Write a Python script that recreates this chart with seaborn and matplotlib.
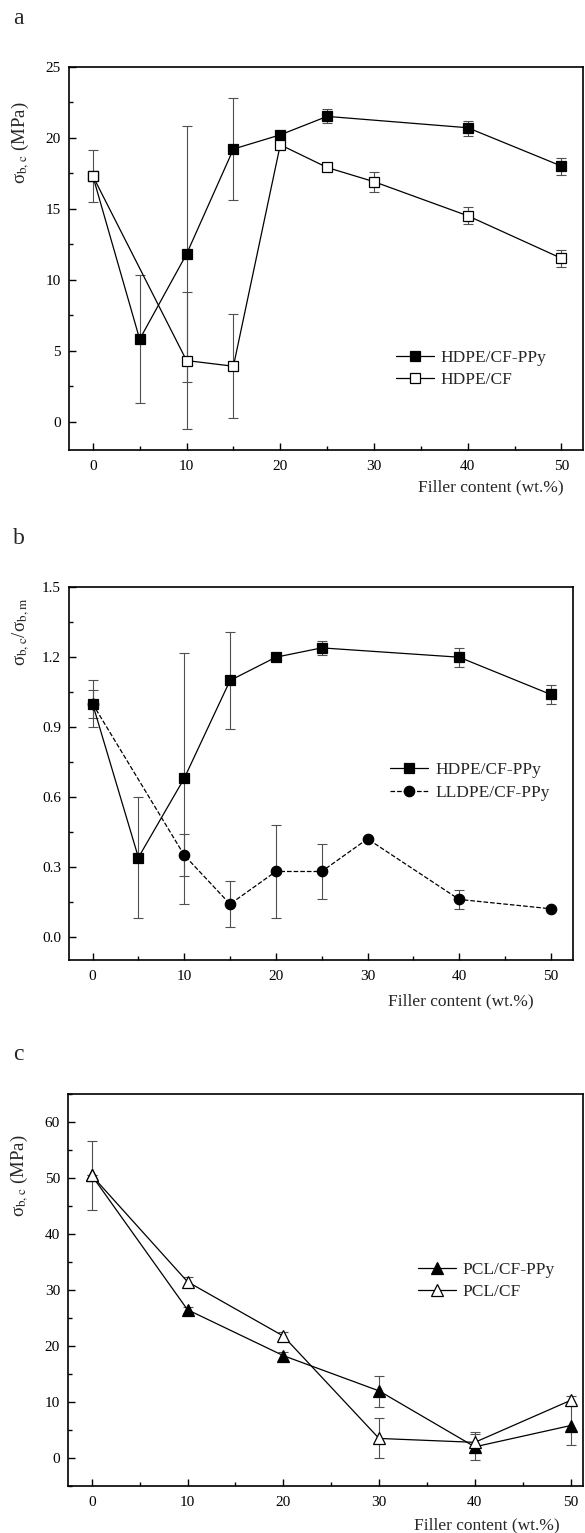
import matplotlib
matplotlib.use("Agg")
import matplotlib.pyplot as plt
from matplotlib.ticker import MultipleLocator, FormatStrFormatter
import seaborn as sns

# ---------------- data ----------------
# panel a
a_x_pp = [0, 5, 10, 15, 20, 25, 40, 50]
a_y_pp = [17.3, 5.8, 11.8, 19.2, 20.2, 21.5, 20.7, 18.0]
a_lo_pp = [17.3, 1.3, -0.5, 15.6, 19.8, 21.0, 20.1, 17.4]
a_hi_pp = [17.3, 10.3, 20.8, 22.8, 20.5, 22.0, 21.2, 18.6]
a_x_cf = [0, 10, 15, 20, 25, 30, 40, 50]
a_y_cf = [17.3, 4.3, 3.9, 19.5, 17.9, 16.9, 14.5, 11.5]
a_lo_cf = [15.5, 2.8, 0.25, 19.2, 17.75, 16.2, 13.9, 10.9]
a_hi_cf = [19.1, 9.1, 7.6, 19.9, 18.1, 17.6, 15.1, 12.1]

# panel b
b_x_h = [0, 5, 10, 15, 20, 25, 40, 50]
b_y_h = [1.0, 0.34, 0.68, 1.10, 1.20, 1.24, 1.20, 1.04]
b_lo_h = [0.90, 0.08, 0.14, 0.89, 1.19, 1.21, 1.16, 1.00]
b_hi_h = [1.10, 0.60, 1.22, 1.31, 1.21, 1.27, 1.24, 1.08]
b_x_l = [0, 10, 15, 20, 25, 30, 40, 50]
b_y_l = [1.0, 0.35, 0.14, 0.28, 0.28, 0.42, 0.16, 0.12]
b_lo_l = [0.94, 0.26, 0.04, 0.08, 0.16, 0.42, 0.12, 0.12]
b_hi_l = [1.06, 0.44, 0.24, 0.48, 0.40, 0.42, 0.20, 0.12]

# panel c
c_x = [0, 10, 20, 30, 40, 50]
c_y_pp = [50.5, 26.5, 18.3, 12.0, 2.0, 5.8]
c_lo_pp = [50.5, 26.0, 17.5, 9.2, -0.3, 2.3]
c_hi_pp = [50.5, 27.0, 19.0, 14.7, 4.3, 9.3]
c_y_cf = [50.5, 31.5, 21.8, 3.5, 2.8, 10.3]
c_lo_cf = [44.3, 30.8, 21.0, 0.0, 1.5, 9.6]
c_hi_cf = [56.6, 32.3, 22.6, 7.2, 4.6, 11.0]

labels_a = ["HDPE/CF-PPy", "HDPE/CF"]
labels_b = ["HDPE/CF-PPy", "LLDPE/CF-PPy"]
labels_c = ["PCL/CF-PPy", "PCL/CF"]
xlabel = "Filler content (wt.%)"

# ---------------- style ----------------
sns.set_theme(style="ticks")
plt.rcParams["font.family"] = ["Liberation Serif", "DejaVu Serif"]
plt.rcParams["mathtext.fontset"] = "stix"
plt.rcParams["axes.linewidth"] = 1.2

W, H = 585, 1533
fig = plt.figure(figsize=(W / 100, H / 100), dpi=100)


def axes_px(left, right, top, bottom):
    return fig.add_axes([left / W, 1 - bottom / H, (right - left) / W, (bottom - top) / H])


ax_a = axes_px(69.4, 583, 66.7, 450)
ax_b = axes_px(69.4, 572.8, 587.3, 960)
ax_c = axes_px(68.3, 583, 1094.3, 1486)

ERR_C = "#505050"


def series(ax, x, y, lo, hi, marker, face, ms, label, ls="-"):
    yerr = [[yy - l for yy, l in zip(y, lo)], [h - yy for yy, h in zip(y, hi)]]
    ax.errorbar(x, y, yerr=yerr, fmt="none", ecolor=ERR_C, elinewidth=0.8,
                capsize=3.5, capthick=0.8, zorder=2)
    sns.lineplot(x=x, y=y, ax=ax, color="black", linewidth=0.9, linestyle=ls,
                 marker=marker, markersize=ms, markerfacecolor=face,
                 markeredgecolor="black", markeredgewidth=0.9, label=label,
                 zorder=3)


series(ax_a, a_x_pp, a_y_pp, a_lo_pp, a_hi_pp, "s", "black", 7, labels_a[0])
series(ax_a, a_x_cf, a_y_cf, a_lo_cf, a_hi_cf, "s", "white", 7, labels_a[1])

series(ax_b, b_x_h, b_y_h, b_lo_h, b_hi_h, "s", "black", 7, labels_b[0])
series(ax_b, b_x_l, b_y_l, b_lo_l, b_hi_l, "o", "black", 7.5, labels_b[1], ls="--")

series(ax_c, c_x, c_y_pp, c_lo_pp, c_hi_pp, "^", "black", 8.5, labels_c[0])
series(ax_c, c_x, c_y_cf, c_lo_cf, c_hi_cf, "^", "white", 8.5, labels_c[1])

# axes settings
ax_a.set_xlim(-2.5, 52.3)
ax_a.set_ylim(-2, 25)
ax_a.yaxis.set_major_locator(MultipleLocator(5))
ax_a.yaxis.set_minor_locator(MultipleLocator(2.5))

ax_b.set_xlim(-2.53, 52.4)
ax_b.set_ylim(-0.1, 1.5001)
ax_b.yaxis.set_major_locator(MultipleLocator(0.3))
ax_b.yaxis.set_minor_locator(MultipleLocator(0.15))
ax_b.yaxis.set_major_formatter(FormatStrFormatter("%.1f"))

ax_c.set_xlim(-2.45, 51.3)
ax_c.set_ylim(-5, 65)
ax_c.yaxis.set_major_locator(MultipleLocator(10))
ax_c.yaxis.set_minor_locator(MultipleLocator(5))

ylabels = ["σ$_{\\rm b,c}$ (MPa)", "σ$_{\\rm b,c}$/σ$_{\\rm b,m}$", "σ$_{\\rm b,c}$ (MPa)"]
ylab_pos = [(-0.095, 0.801), (-0.095, 0.881), (-0.093, 0.792)]
xlab_pos = [(0.962, -0.0965), (0.922, -0.112), (0.955, -0.0996)]
leg_pos = [(0.635, 0.211), (0.637, 0.479), (0.679, 0.523)]

for ax, yl, yp, xp, lp in zip([ax_a, ax_b, ax_c], ylabels, ylab_pos, xlab_pos, leg_pos):
    ax.xaxis.set_major_locator(MultipleLocator(10))
    ax.xaxis.set_minor_locator(MultipleLocator(5))
    ax.tick_params(which="both", direction="in", top=False, right=False,
                   width=1.0, colors="black", labelsize=11)
    ax.tick_params(which="major", length=5)
    ax.tick_params(which="minor", length=3)
    ax.tick_params(axis="x", which="major", pad=7.5)
    ax.tick_params(axis="y", which="major", pad=6)
    for s in ax.spines.values():
        s.set_visible(True)
        s.set_color("black")
        s.set_linewidth(1.2)
    ax.set_facecolor("white")
    ax.set_ylabel(yl, fontsize=13.5)
    ax.yaxis.label.set_va("center")
    ax.yaxis.set_label_coords(*yp)
    ax.set_xlabel(xlabel, fontsize=12.5, ha="right", va="center")
    ax.xaxis.set_label_coords(*xp)
    leg = ax.legend(loc="center left", bbox_to_anchor=lp, frameon=False,
                    fontsize=12.5, handlelength=2.2, handletextpad=0.4,
                    borderpad=0, borderaxespad=0, labelspacing=0.35)

for letter, ypx in zip(["a", "b", "c"], [18.3, 538, 1055]):
    fig.text(18.7 / W, 1 - ypx / H, letter, fontsize=17, ha="center", va="center")

fig.savefig("out.png", dpi=100, facecolor="white")
